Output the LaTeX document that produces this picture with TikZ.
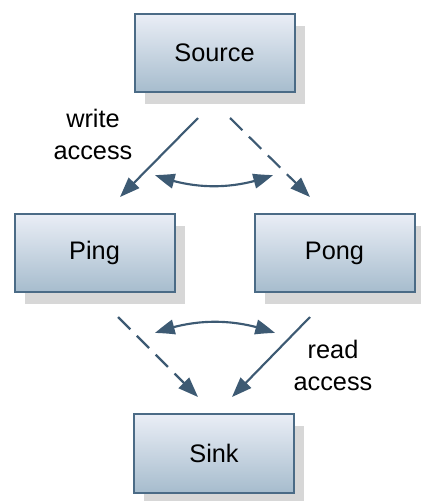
\documentclass[tikz,border=0pt]{standalone}
\usepackage{fontspec}
\setmainfont{Liberation Sans}
\usetikzlibrary{arrows.meta,shadows,bending}
\definecolor{boxline}{HTML}{4B6B86}
\definecolor{boxtop}{HTML}{EAEEF6}
\definecolor{boxbot}{HTML}{A6BCCD}
\definecolor{arrowc}{HTML}{3D5A73}
\definecolor{shade}{HTML}{D7D7D7}
\begin{document}
\begin{tikzpicture}[x=0.75pt,y=-0.75pt,
  block/.style={draw=boxline, line width=1.5pt, top color=boxtop, bottom color=boxbot,
    minimum width=120pt, minimum height=59pt, inner sep=0pt,
    font=\fontsize{19}{23}\selectfont,
    drop shadow={shadow xshift=7.5pt, shadow yshift=-9pt, fill=shade, opacity=1}},
  link/.style={draw=arrowc, line width=1.6pt,
    -{Triangle[length=15pt,width=11pt]}, arrowc},
  swap/.style={draw=arrowc, line width=1.6pt,
    {Triangle[length=15pt,width=11pt,bend]}-{Triangle[length=15pt,width=11pt,bend]}, arrowc},
  dashedlink/.style={link, dash pattern=on 13pt off 7pt},
  lbl/.style={align=center, font=\fontsize{19}{24}\selectfont, inner sep=0pt}]
  \useasboundingbox (0,0) rectangle (421,501);

  % the four buffers
  \node[block] (src)  at (214.5,53)  {Source};
  \node[block] (ping) at (94.5,253)  {Ping};
  \node[block] (pong) at (334.5,253) {Pong};
  \node[block] (sink) at (214,453.5) {Sink};

  % connector end points
  \coordinate (s1) at (198,118);
  \coordinate (s2) at (230,118);
  \coordinate (p1) at (120,197);
  \coordinate (p2) at (310,197);
  \coordinate (q1) at (118,317);
  \coordinate (q2) at (310,317);
  \coordinate (k1) at (198,397);
  \coordinate (k2) at (232,397);
  \coordinate (t1) at (155,175);
  \coordinate (t2) at (273,175);
  \coordinate (b1) at (155,333);
  \coordinate (b2) at (275,333);

  % writes from the source
  \draw[link] (s1) -- (p1);
  \draw[dashedlink] (s2) -- (p2);
  \draw[swap] (t1) .. controls (194,190) and (234,190) .. (t2);

  % reads into the sink
  \draw[dashedlink] (q1) -- (k1);
  \draw[link] (q2) -- (k2);
  \draw[swap] (b1) .. controls (195,318) and (235,318) .. (b2);

  % labels
  \node[lbl] (wl) at (93,134) {write\\access};
  \node[lbl] (rl) at (333,365) {read\\access};
\end{tikzpicture}
\end{document}
